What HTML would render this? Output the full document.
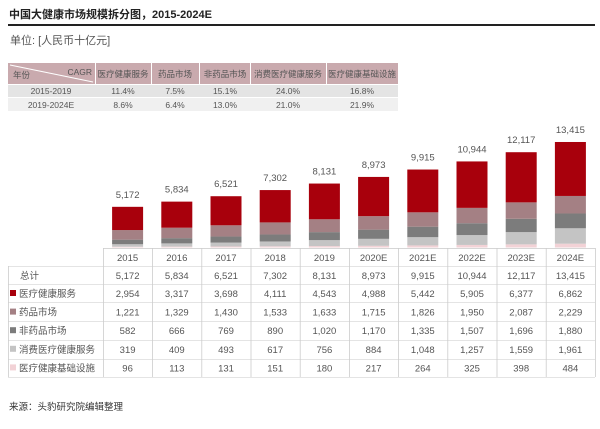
<!DOCTYPE html>
<html><head><meta charset="utf-8"><style>
body{margin:0;background:#fff;width:600px;height:424px;overflow:hidden;font-family:"Liberation Sans","Noto Sans CJK SC",sans-serif;}
svg text{font-family:"Liberation Sans","Noto Sans CJK SC",sans-serif;}
</style></head><body>
<svg width="600" height="424" xmlns="http://www.w3.org/2000/svg">
<text x="9" y="18" font-size="11" font-weight="bold" fill="#222">中国大健康市场规模拆分图，2015-2024E</text>
<rect x="8" y="24" width="587" height="2" fill="#222"/>
<text x="10" y="44" font-size="11" fill="#555">单位: [人民币十亿元]</text>
<!-- CAGR table -->
<rect x="8" y="63" width="390" height="21" fill="#c9aaae"/>
<g fill="#fff"><rect x="95" y="63" width="1" height="21"/><rect x="151" y="63" width="1" height="21"/><rect x="199" y="63" width="1" height="21"/><rect x="250" y="63" width="1" height="21"/><rect x="326" y="63" width="1" height="21"/></g>
<line x1="10" y1="65" x2="93" y2="82" stroke="#fff" stroke-width="1"/>
<rect x="8" y="85" width="390" height="12" fill="#e4e4e4"/>
<rect x="8" y="98" width="390" height="13" fill="#f0f0f0"/>
<g font-size="8.5" fill="#555">
<text x="13" y="78">年份</text><text x="92" y="75" text-anchor="end">CAGR</text>
<text x="123" y="77" text-anchor="middle">医疗健康服务</text>
<text x="175" y="77" text-anchor="middle">药品市场</text>
<text x="225" y="77" text-anchor="middle">非药品市场</text>
<text x="288" y="77" text-anchor="middle">消费医疗健康服务</text>
<text x="362" y="77" text-anchor="middle">医疗健康基础设施</text>
</g>
<g font-size="8.5" fill="#555" text-anchor="middle">
<text x="51" y="94">2015-2019</text><text x="123" y="94">11.4%</text><text x="175" y="94">7.5%</text><text x="225" y="94">15.1%</text><text x="288" y="94">24.0%</text><text x="362" y="94">16.8%</text>
<text x="51" y="108">2019-2024E</text><text x="123" y="108">8.6%</text><text x="175" y="108">6.4%</text><text x="225" y="108">13.0%</text><text x="288" y="108">21.0%</text><text x="362" y="108">21.9%</text>
</g>
<g id="bars"></g>
<g id="tbl"></g>
<text x="9" y="410" font-size="9.5" fill="#333">来源：头豹研究院编辑整理</text>
</svg>
<script>
const years=["2015","2016","2017","2018","2019","2020E","2021E","2022E","2023E","2024E"];
const tot=[5172,5834,6521,7302,8131,8973,9915,10944,12117,13415];
const s=[[2954,3317,3698,4111,4543,4988,5442,5905,6377,6862],[1221,1329,1430,1533,1633,1715,1826,1950,2087,2229],[582,666,769,890,1020,1170,1335,1507,1696,1880],[319,409,493,617,756,884,1048,1257,1559,1961],[96,113,131,151,180,217,264,325,398,484]];
const names=["医疗健康服务","药品市场","非药品市场","消费医疗健康服务","医疗健康基础设施"];
const cols=["#a8000c","#a48084","#7c7c7c","#c4c4c4","#f2d2d6"];
const ns="http://www.w3.org/2000/svg";
function el(t,a,p,txt){const e=document.createElementNS(ns,t);for(const k in a)e.setAttribute(k,a[k]);if(txt!=null)e.textContent=txt;p.appendChild(e);return e;}
const B=document.getElementById("bars"),T=document.getElementById("tbl");
const x0=103,cw=49.2,base=247.5,k=105.5/13415;
const fmt=n=>n.toLocaleString("en-US");
for(let i=0;i<10;i++){
 const cx=x0+cw*(i+0.5);let y=base;
 for(let j=4;j>=0;j--){const h=s[j][i]*k;y-=h;el("rect",{x:cx-15.5,y:y,width:31,height:h,fill:cols[j]},B);}
 el("text",{x:cx,y:base-tot[i]*k-9,"font-size":"9.5",fill:"#555","text-anchor":"middle"},B,fmt(tot[i]));
}
// table lines
const rows=[248,266,284,302,321,340,359,377];
el("rect",{x:x0,y:248,width:492,height:0.8,fill:"#ccc"},T);
for(let r=1;r<rows.length;r++)el("rect",{x:8,y:rows[r],width:587,height:0.8,fill:"#ddd"},T);
for(let i=0;i<=10;i++)el("rect",{x:x0+cw*i,y:248,width:0.8,height:129,fill:"#ccc"},T);
el("rect",{x:8,y:266,width:0.8,height:111,fill:"#ccc"},T);
for(let i=0;i<10;i++){const cx=x0+cw*(i+0.5);
 el("text",{x:cx,y:261,"font-size":"9.5",fill:"#555","text-anchor":"middle"},T,years[i]);
 el("text",{x:cx,y:279,"font-size":"9.5",fill:"#555","text-anchor":"middle"},T,fmt(tot[i]));
 for(let j=0;j<5;j++)el("text",{x:cx,y:297+j*18.6,"font-size":"9.5",fill:"#555","text-anchor":"middle"},T,fmt(s[j][i]));
}
el("text",{x:20,y:279,"font-size":"9.5",fill:"#555"},T,"总计");
for(let j=0;j<5;j++){const y=297+j*18.6;
 el("rect",{x:10,y:y-7,width:6,height:6,fill:cols[j]},T);
 el("text",{x:19,y:y,"font-size":"9.5",fill:"#555"},T,names[j]);}
</script>
</body></html>
